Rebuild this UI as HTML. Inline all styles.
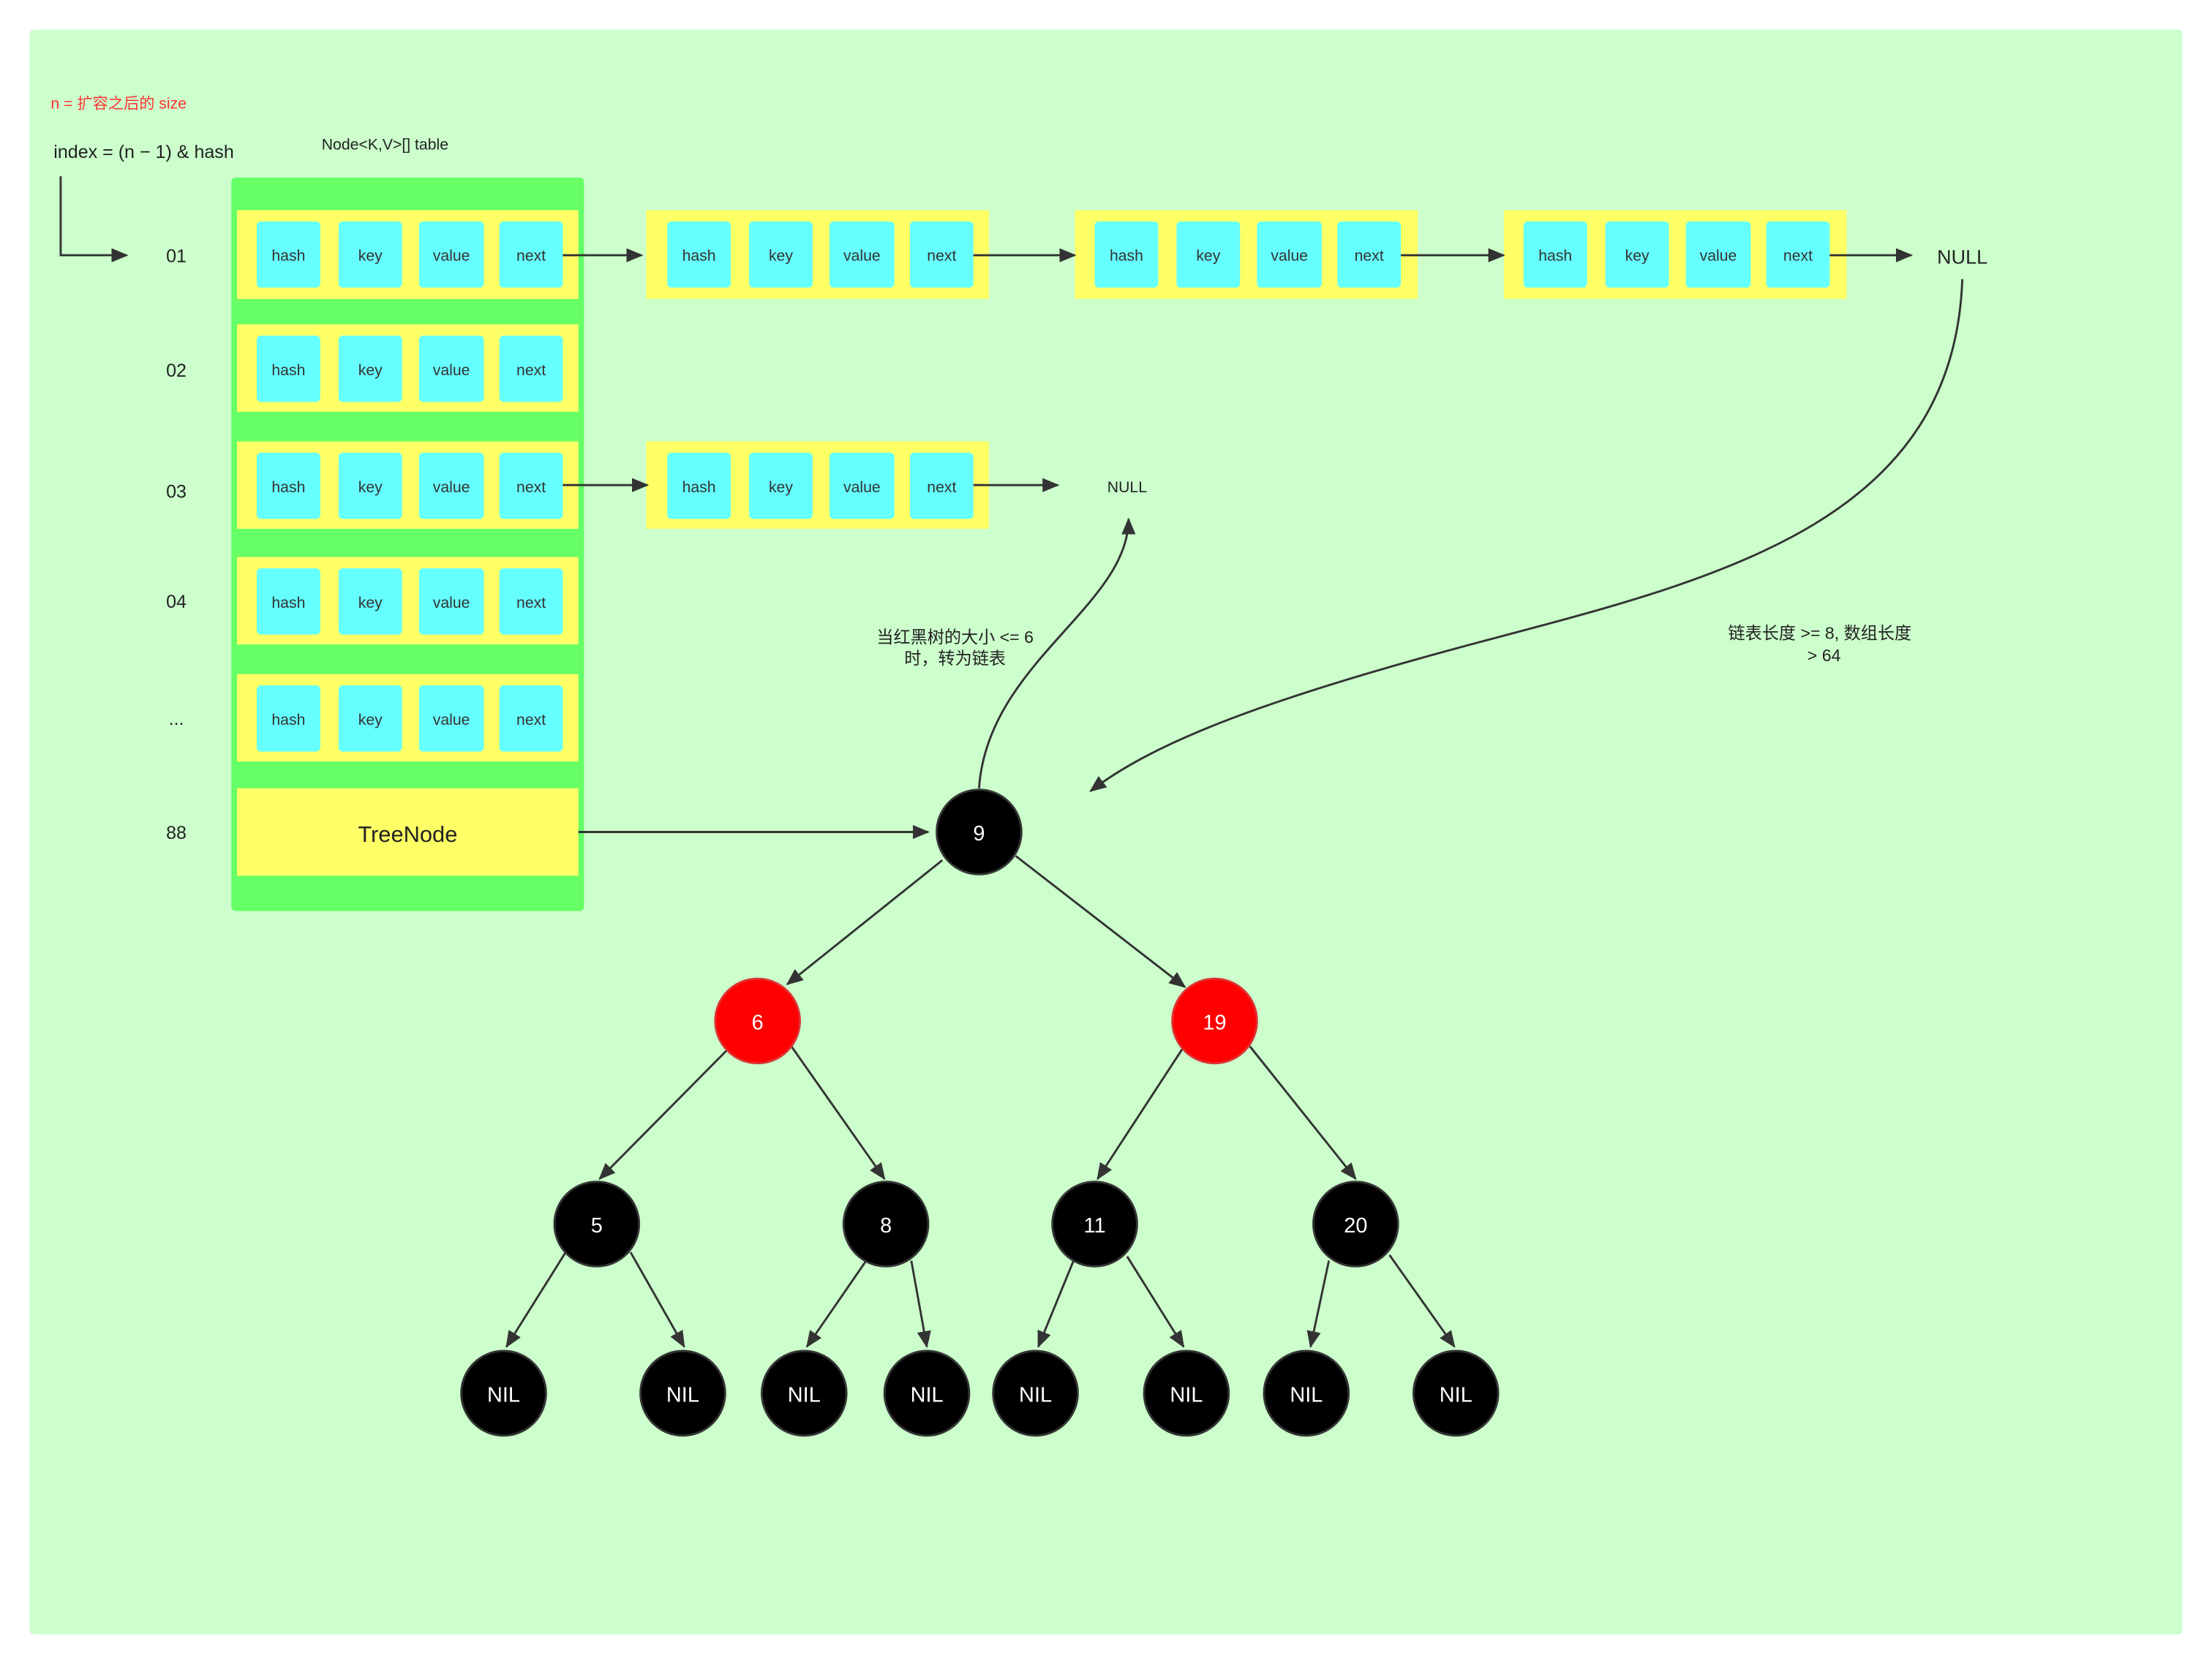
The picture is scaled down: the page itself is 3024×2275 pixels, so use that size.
<!DOCTYPE html>
<html><head><meta charset="utf-8"><style>
html,body{margin:0;padding:0;background:#fff;}
svg{display:block;}
text{font-family:"Liberation Sans","Noto Sans CJK SC",sans-serif;}
</style></head><body>
<svg width="3024" height="2275" viewBox="0 0 1568 1180" preserveAspectRatio="none" xmlns="http://www.w3.org/2000/svg">
<defs>
<marker id="a" markerWidth="12" markerHeight="10" refX="11" refY="5" orient="auto" markerUnits="userSpaceOnUse">
<path d="M0,0 L12,5 L0,10 z" fill="#333"/></marker>
<g id="cells">
<rect x="14" y="8" width="45" height="47" rx="3" fill="#66ffff"/>
<rect x="72" y="8" width="45" height="47" rx="3" fill="#66ffff"/>
<rect x="129" y="8" width="46" height="47" rx="3" fill="#66ffff"/>
<rect x="186" y="8" width="45" height="47" rx="3" fill="#66ffff"/>
<g font-size="11" fill="#333" text-anchor="middle">
<text x="36.5" y="36">hash</text><text x="94.5" y="36">key</text><text x="152" y="36">value</text><text x="208.5" y="36">next</text></g>
</g>
</defs>
<rect x="21" y="21" width="1526" height="1138" rx="3" fill="#ccffcc"/>
<text x="36" y="77" font-size="11" fill="#ff3333">n = 扩容之后的 size</text>
<text x="38" y="112" font-size="13" fill="#222">index = (n − 1) &amp; hash</text>
<text x="228" y="106" font-size="11" fill="#222">Node&lt;K,V&gt;[] table</text>
<path d="M43,125 L43,181 L90,181" fill="none" stroke="#333" stroke-width="1.5" marker-end="url(#a)"/>
<rect x="164" y="126" width="250" height="520" rx="3" fill="#66ff66"/>
<g font-size="13" fill="#222" text-anchor="middle">
<text x="125" y="186">01</text><text x="125" y="267">02</text><text x="125" y="353">03</text><text x="125" y="431">04</text><text x="125" y="514">...</text><text x="125" y="595">88</text></g>
<g fill="#ffff66">
<rect x="168" y="149" width="242" height="63"/><rect x="168" y="230" width="242" height="62"/>
<rect x="168" y="313" width="242" height="62"/><rect x="168" y="395" width="242" height="62"/>
<rect x="168" y="478" width="242" height="62"/><rect x="168" y="559" width="242" height="62"/>
<rect x="458" y="149" width="243" height="63"/><rect x="762" y="149" width="243" height="63"/>
<rect x="1066" y="149" width="243" height="63"/><rect x="458" y="313" width="243" height="62"/>
</g>
<use href="#cells" x="168" y="149"/><use href="#cells" x="168" y="230"/><use href="#cells" x="168" y="313"/>
<use href="#cells" x="168" y="395"/><use href="#cells" x="168" y="478"/>
<use href="#cells" x="459" y="149"/><use href="#cells" x="762" y="149"/><use href="#cells" x="1066" y="149"/>
<use href="#cells" x="459" y="313"/>
<text x="289" y="597" font-size="16" fill="#222" text-anchor="middle">TreeNode</text>
<g stroke="#333" stroke-width="1.5" fill="none" marker-end="url(#a)">
<line x1="399" y1="181" x2="455" y2="181"/><line x1="690" y1="181" x2="762" y2="181"/>
<line x1="993" y1="181" x2="1066" y2="181"/><line x1="1297" y1="181" x2="1355" y2="181"/>
<line x1="399" y1="344" x2="459" y2="344"/><line x1="690" y1="344" x2="750" y2="344"/>
<line x1="410" y1="590" x2="658" y2="590"/>
<path d="M694,559 C700,470 800,430 800,368"/>
<path d="M1391,198 C1385,370 1220,410 1050,455 C900,495 820,525 773,561"/>
<line x1="668" y1="610" x2="558" y2="698"/><line x1="720" y1="607" x2="840" y2="700"/>
<line x1="515" y1="745" x2="425" y2="836"/><line x1="561" y1="742" x2="627" y2="836"/>
<line x1="838" y1="744" x2="778" y2="836"/><line x1="886" y1="742" x2="961" y2="836"/>
<line x1="401" y1="888" x2="359" y2="955"/><line x1="447" y1="888" x2="485" y2="955"/>
<line x1="614" y1="894" x2="572" y2="955"/><line x1="646" y1="894" x2="657" y2="955"/>
<line x1="761" y1="894" x2="736" y2="955"/><line x1="799" y1="891" x2="839" y2="955"/>
<line x1="942" y1="894" x2="929" y2="955"/><line x1="985" y1="890" x2="1031" y2="955"/>
</g>
<text x="1391" y="187" font-size="14" fill="#222" text-anchor="middle">NULL</text>
<text x="799" y="349" font-size="11" fill="#222" text-anchor="middle">NULL</text>
<g font-size="12" fill="#222" text-anchor="middle">
<text x="677" y="456">当红黑树的大小 &lt;= 6</text><text x="677" y="471">时，转为链表</text>
<text x="1290" y="453">链表长度 &gt;= 8, 数组长度</text><text x="1293" y="469">&gt; 64</text></g>
<g stroke="#333" stroke-width="1.5">
<circle cx="694" cy="590" r="30" fill="#000"/>
<circle cx="537" cy="724" r="30" fill="#ff0000" stroke="#d33"/>
<circle cx="861" cy="724" r="30" fill="#ff0000" stroke="#d33"/>
<circle cx="423" cy="868" r="30" fill="#000"/><circle cx="628" cy="868" r="30" fill="#000"/>
<circle cx="776" cy="868" r="30" fill="#000"/><circle cx="961" cy="868" r="30" fill="#000"/>
<circle cx="357" cy="988" r="30" fill="#000"/><circle cx="484" cy="988" r="30" fill="#000"/>
<circle cx="570" cy="988" r="30" fill="#000"/><circle cx="657" cy="988" r="30" fill="#000"/>
<circle cx="734" cy="988" r="30" fill="#000"/><circle cx="841" cy="988" r="30" fill="#000"/>
<circle cx="926" cy="988" r="30" fill="#000"/><circle cx="1032" cy="988" r="30" fill="#000"/>
</g>
<g fill="#fff" font-size="15" text-anchor="middle">
<text x="694" y="596">9</text><text x="537" y="730">6</text><text x="861" y="730">19</text>
<text x="423" y="874">5</text><text x="628" y="874">8</text><text x="776" y="874">11</text><text x="961" y="874">20</text>
<text x="357" y="994">NIL</text><text x="484" y="994">NIL</text><text x="570" y="994">NIL</text><text x="657" y="994">NIL</text>
<text x="734" y="994">NIL</text><text x="841" y="994">NIL</text><text x="926" y="994">NIL</text><text x="1032" y="994">NIL</text>
</g>
</svg>
</body></html>
